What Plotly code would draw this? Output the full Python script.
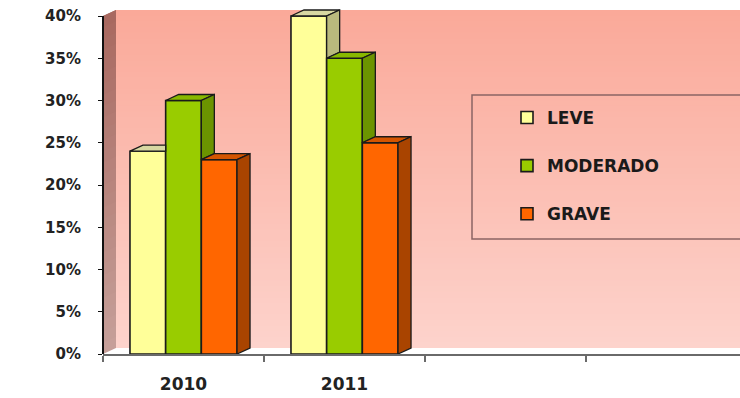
import plotly.graph_objects as go

# ---- data ----
years = ["2010", "2011"]
series_names = ["LEVE", "MODERADO", "GRAVE"]
leve = [24, 40]
moderado = [30, 35]
grave = [23, 25]
y_tick_values = [0, 5, 10, 15, 20, 25, 30, 35, 40]
y_tick_labels = ["0%", "5%", "10%", "15%", "20%", "25%", "30%", "35%", "40%"]

# ---- styles ----
front_colors = ["#ffff99", "#99cc00", "#ff6600"]
side_colors = ["#b9b97d", "#6b9400", "#a94400"]
top_colors = ["#d8d8a2", "#88b800", "#d45500"]
EDGE = "#1a1a1a"
FONT = "DejaVu Sans"

W_PX, H_PX = 740, 398
M_L, M_R, M_T, M_B = 103, 0, 9, 44
SLOT_PX = 161.0
PLOT_W = W_PX - M_L - M_R
PLOT_H = H_PX - M_T - M_B
X0 = -0.5
X1 = X0 + PLOT_W / SLOT_PX
Y_MAX = 40
Y_TOP = Y_MAX * PLOT_H / (PLOT_H - 7)
DX = 13 / SLOT_PX
DY = 6 * Y_TOP / PLOT_H
BARGAP = 0.335
W = (1 - BARGAP) / 3

values = [leve, moderado, grave]
xs = list(range(len(years)))

fig = go.Figure()

# front faces (real bars)
for i, (name, vals) in enumerate(zip(series_names, values)):
    off = -(1 - BARGAP) / 2 + i * W
    fig.add_trace(go.Bar(
        x=xs, y=vals, width=W, offset=off, name=name, legendgroup=name,
        marker=dict(color=front_colors[i], line=dict(color=EDGE, width=1.6)),
        hovertemplate=name + " %{x}: %{y}%<extra></extra>",
    ))

# 3D top and side faces, derived from the values
for i, vals in enumerate(values):
    off = -(1 - BARGAP) / 2 + i * W
    tx, ty, sx, sy = [], [], [], []
    for j, v in enumerate(vals):
        xl = xs[j] + off
        xr = xl + W
        nxt = values[i + 1][j] if i + 1 < len(values) else None
        if nxt is not None and nxt > v:
            tx += [xl, xl + DX, xr, xr, xl, None]
            ty += [v, v + DY, v + DY, v, v, None]
        else:
            tx += [xl, xl + DX, xr + DX, xr, xl, None]
            ty += [v, v + DY, v + DY, v, v, None]
        if nxt is None:
            lo = 0
        elif nxt < v:
            lo = nxt
        else:
            lo = None
        if lo is not None:
            sx += [xr, xr + DX, xr + DX, xr, xr, None]
            sy += [lo, lo + DY, v + DY, v, lo, None]
    fig.add_trace(go.Scatter(x=tx, y=ty, mode="lines", fill="toself",
                             fillcolor=top_colors[i], line=dict(color=EDGE, width=1.3),
                             showlegend=False, hoverinfo="skip"))
    if sx:
        fig.add_trace(go.Scatter(x=sx, y=sy, mode="lines", fill="toself",
                                 fillcolor=side_colors[i], line=dict(color=EDGE, width=1.3),
                                 showlegend=False, hoverinfo="skip"))

shapes = []
# back wall gradient (overlapping bands to avoid seams)
N = 60
band = Y_MAX / N
top_c = (250, 169, 153)
bot_c = (253, 211, 204)
for k in range(N):
    t = (k + 0.5) / N
    c = tuple(round(bot_c[m] + (top_c[m] - bot_c[m]) * t) for m in range(3))
    ya = DY + band * k
    yb = min(DY + band * (k + 2), DY + Y_MAX)
    shapes.append(dict(type="rect", xref="x", yref="y", x0=X0 + DX, x1=X1 + 0.2,
                       y0=ya, y1=yb, fillcolor="rgb(%d,%d,%d)" % c, line=dict(width=0),
                       layer="below"))
# left wall gradient
NL = 30
lband = Y_MAX / NL
lt = (168, 104, 95)
lb = (198, 160, 154)
for k in range(NL):
    t = (k + 0.5) / NL
    c = tuple(round(lb[m] + (lt[m] - lb[m]) * t) for m in range(3))
    ya = lband * k
    yb = min(lband * (k + 2), Y_MAX)
    path = "M %f,%f L %f,%f L %f,%f L %f,%f Z" % (X0, ya, X0 + DX, ya + DY, X0 + DX, yb + DY, X0, yb)
    shapes.append(dict(type="path", xref="x", yref="y", path=path,
                       fillcolor="rgb(%d,%d,%d)" % c, line=dict(width=0), layer="below"))
# y axis line (0% .. 40%)
shapes.append(dict(type="line", xref="paper", yref="y", x0=0, x1=0, y0=0, y1=Y_MAX,
                   line=dict(color="#111111", width=2), layer="above"))
# legend frame
shapes.append(dict(type="rect", xref="paper", yref="paper",
                   x0=(472 - M_L) / PLOT_W, x1=1.05,
                   y0=(H_PX - M_B - 239) / PLOT_H, y1=(H_PX - M_B - 95) / PLOT_H,
                   line=dict(color="#8a6464", width=1.5), fillcolor="rgba(0,0,0,0)",
                   layer="above"))

fig.update_layout(
    width=W_PX, height=H_PX,
    margin=dict(l=M_L, r=M_R, t=M_T, b=M_B),
    paper_bgcolor="white", plot_bgcolor="white",
    barmode="overlay",
    shapes=shapes,
    showlegend=True,
    legend=dict(x=(507 - M_L) / PLOT_W, xanchor="left",
                y=(H_PX - M_B - 100) / PLOT_H, yanchor="top",
                bgcolor="rgba(0,0,0,0)", borderwidth=0,
                font=dict(family=FONT, size=17, color="#1a1a1a", weight="bold"),
                tracegroupgap=23, itemwidth=30, itemclick=False, itemdoubleclick=False),
    xaxis=dict(range=[X0, X1], showgrid=False, zeroline=False,
               showline=True, linecolor="#6a6a6a", linewidth=2,
               tickmode="array", tickvals=xs, ticktext=years, ticks="",
               ticklabelstandoff=14,
               tickfont=dict(family=FONT, size=17, color="#222222", weight="bold"),
               minor=dict(tickmode="array", tickvals=[-0.5, 0.5, 1.5, 2.5, 3.5],
                          ticks="outside", ticklen=6, tickwidth=1.5, tickcolor="#6a6a6a"),
               fixedrange=True),
    yaxis=dict(range=[0, Y_TOP], showgrid=False, zeroline=False, showline=False,
               tickmode="array", tickvals=y_tick_values, ticktext=y_tick_labels,
               ticks="outside", ticklen=4, tickwidth=1, tickcolor="#111111",
               ticklabelstandoff=14,
               tickfont=dict(family=FONT, size=15, color="#222222", weight="bold"),
               fixedrange=True),
)

fig.write_html("out.html")
